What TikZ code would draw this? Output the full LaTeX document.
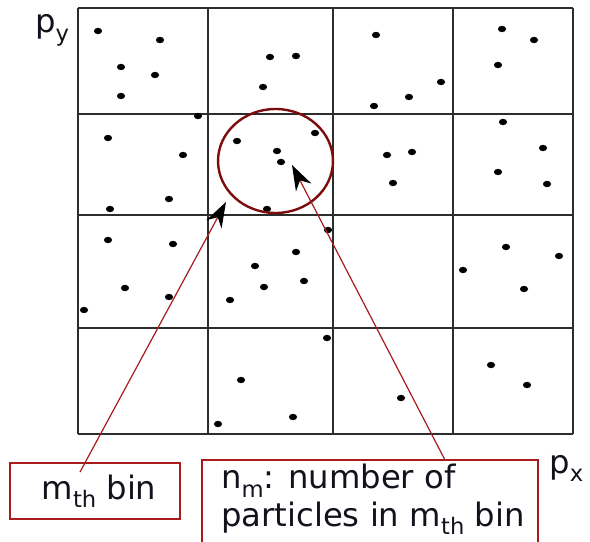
\documentclass[tikz,border=0pt]{standalone}
\usepackage{fontspec}
\setmainfont{DejaVu Sans}
\usepackage{tikz}
\usetikzlibrary{arrows.meta, positioning}

\definecolor{boxred}{RGB}{168,28,28}
\definecolor{ringred}{RGB}{125,12,12}
\definecolor{inkdark}{RGB}{18,18,28}
\definecolor{gridgray}{RGB}{45,45,45}

\newcommand{\lowsub}[1]{\raisebox{-0.26em}{\fontsize{17}{17}\selectfont #1}}

\begin{document}
\begin{tikzpicture}[
    x=0.75pt, y=-0.75pt,
    gridline/.style={draw=gridgray, line width=1pt},
    particle/.style={fill=black},
    binring/.style={draw=ringred, line width=1.8pt},
    boxframe/.style={draw=boxred, line width=1.5pt, fill=white},
    labeltext/.style={text=inkdark, font=\fontsize{24.2}{28}\selectfont},
    axislabel/.style={inner sep=0pt, text=inkdark, font=\fontsize{24.2}{28}\selectfont},
    pointer/.style={draw=boxred, line width=0.9pt, -{Stealth[black, length=19pt, width=13pt, inset=6pt]}}
]

\clip (0,0) rectangle (590,542);
\fill[white] (0,0) rectangle (590,542);

\foreach \gx in {78,208,333,453,573}
    \draw[gridline] (\gx,8) -- (\gx,434);
\foreach \gy in {8,114,215,328,434}
    \draw[gridline] (78,\gy) -- (573,\gy);

\foreach \px/\py in {98/31, 160/40, 121/67, 155/75, 121/96, 270/57, 296/56, 263/87,
    376/35, 374/106, 409/97, 441/82, 502/29, 534/40, 498/65,
    198/116, 108/138, 183/155, 169/199, 110/209, 237/141, 277/151, 281/162, 267/209,
    315/133, 387/155, 412/152, 393/183, 503/122, 543/148, 498/172, 547/184,
    108/240, 173/244, 125/288, 169/297, 84/310, 255/266, 296/252, 264/287, 304/281,
    230/300, 328/230, 506/247, 559/256, 463/270, 524/289,
    241/380, 218/424, 293/417, 327/338, 401/398, 491/365, 527/385}
    \fill[particle] (\px,\py) ellipse [x radius=3.1pt, y radius=2.4pt];

\draw[binring] (275.5,161) ellipse [x radius=43.1pt, y radius=39pt];

\node[axislabel, anchor=base west] (pylabel) at (35,33) {p\lowsub{y}};
\node[axislabel, anchor=base west] (pxlabel) at (549,473) {p\lowsub{x}};

\node[boxframe, labeltext, rectangle, anchor=north west, minimum width=127.5pt, minimum height=42pt, inner xsep=2pt] (mbin) at (9,462) {\hspace*{6pt}m\lowsub{th} bin};

\draw[boxframe] (202,460) rectangle (538,560);
\node[labeltext, anchor=north west, inner sep=0pt, align=left] (nmbox) at (221,464)
    {n\lowsub{m}: number of\\particles in m\lowsub{th} bin};

\coordinate (mtail) at (80,472);
\coordinate (mtip) at (226,202);
\coordinate (ntail) at (445,460);
\coordinate (ntip) at (292,165);

\draw[pointer] (mtail) -- (mtip);
\draw[pointer] (ntail) -- (ntip);

\end{tikzpicture}
\end{document}
